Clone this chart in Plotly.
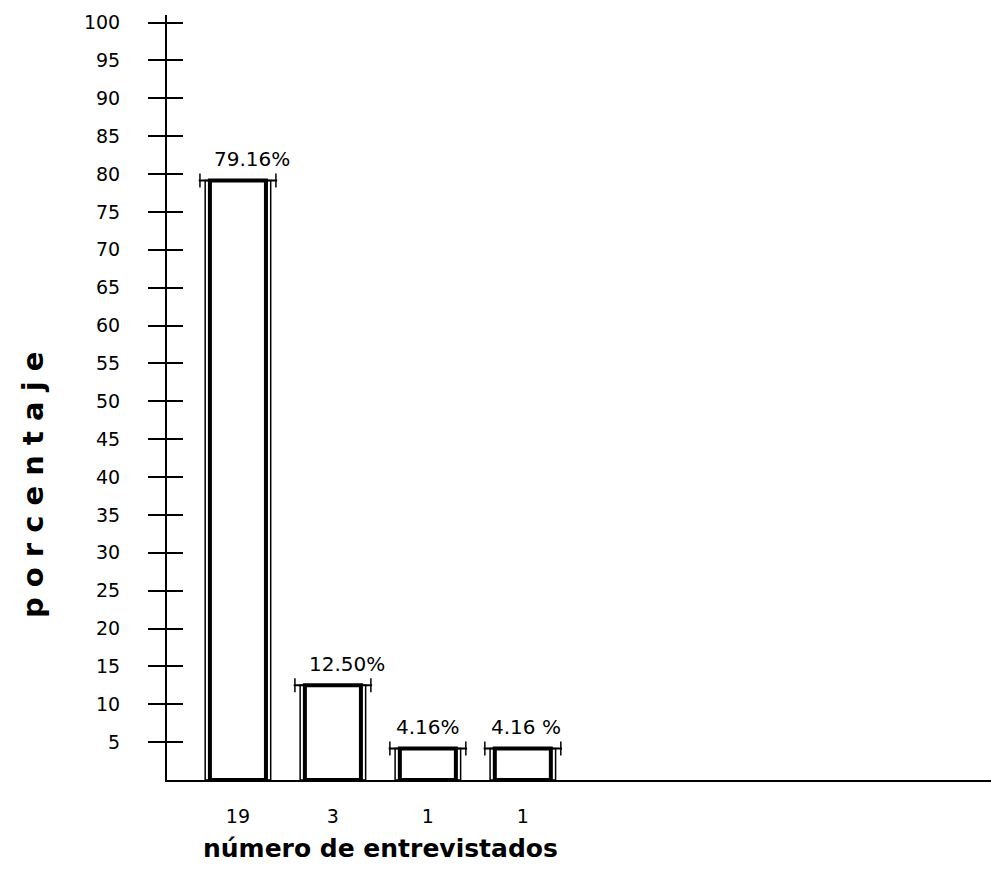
import plotly.graph_objects as go

categories = ["19", "3", "1", "1"]
positions = [0, 1, 2, 3]
percentages = [79.16, 12.50, 4.16, 4.16]
value_labels = ["79.16%", "12.50%", "4.16%", "4.16 %"]
label_shift = [14, 14, 0, 3]
y_ticks = list(range(5, 101, 5))

W, H = 991, 878
ML, MR, MT, MB = 167, 0, 15, 98
plot_w = W - ML - MR
plot_h = H - MT - MB

fig = go.Figure()

# outer bar walls
fig.add_trace(go.Bar(x=positions, y=percentages, width=0.69,
                     marker=dict(color="white", line=dict(color="black", width=1.5)),
                     showlegend=False, hoverinfo="skip"))
# inner bar walls (double-line look)
fig.add_trace(go.Bar(x=positions, y=percentages, width=0.59,
                     marker=dict(color="white", line=dict(color="black", width=4)),
                     showlegend=False, hoverinfo="skip"))
# top crossbars
fig.add_trace(go.Scatter(x=positions, y=percentages, mode="markers",
                         marker=dict(symbol="line-ew", size=56,
                                     line=dict(color="black", width=2)),
                         showlegend=False, hoverinfo="skip"))
# small end ticks of crossbars
for side in (-0.4, 0.4):
    fig.add_trace(go.Scatter(x=[p + side for p in positions], y=percentages, mode="markers",
                             marker=dict(symbol="line-ns", size=10,
                                         line=dict(color="black", width=1.5)),
                             showlegend=False, hoverinfo="skip"))
# invisible trace so yaxis2 (inner half of the cross ticks) is drawn
fig.add_trace(go.Scatter(x=[0], y=[0], yaxis="y2", mode="markers",
                         marker=dict(opacity=0), showlegend=False, hoverinfo="skip"))

for xp, yv, lab, sh in zip(positions, percentages, value_labels, label_shift):
    fig.add_annotation(x=xp, y=yv, xref="x", yref="y", text=lab, showarrow=False,
                       yanchor="bottom", yshift=7, xshift=sh,
                       font=dict(family="DejaVu Sans", size=20, color="black"))

fig.add_annotation(x=(380 - ML) / plot_w, y=(H - MB - 849) / plot_h,
                   xref="paper", yref="paper", text="<b>número de entrevistados</b>",
                   showarrow=False, xanchor="center", yanchor="middle",
                   font=dict(family="DejaVu Sans", size=25, color="black"))
fig.add_annotation(x=(33 - ML) / plot_w, y=(H - MB - 485) / plot_h,
                   xref="paper", yref="paper", text="<b>p o r c e n t a j e</b>",
                   showarrow=False, textangle=-90, xanchor="center", yanchor="middle",
                   font=dict(family="DejaVu Sans", size=29, color="black"))

fig.update_layout(
    width=W, height=H,
    margin=dict(l=ML, r=MR, t=MT, b=MB, autoexpand=False),
    paper_bgcolor="white", plot_bgcolor="white",
    barmode="overlay",
    font=dict(family="DejaVu Sans", color="black"),
    xaxis=dict(range=[-0.747, 7.93], tickmode="array", tickvals=positions,
               ticktext=categories, showgrid=False, zeroline=False,
               showline=True, linecolor="black", linewidth=2, automargin=False,
               ticks="", tickfont=dict(size=19, family="DejaVu Sans"),
               ticklabelstandoff=18),
    yaxis=dict(range=[0, 101], tickmode="array", tickvals=y_ticks,
               ticktext=[str(v) for v in y_ticks], showgrid=False, zeroline=False,
               showline=True, linecolor="black", linewidth=2, automargin=False,
               ticks="outside", ticklen=17, tickwidth=2, tickcolor="black",
               tickfont=dict(size=19, family="DejaVu Sans"), ticklabelstandoff=24),
    yaxis2=dict(range=[0, 101], overlaying="y", side="left", anchor="x",
                tickmode="array", tickvals=y_ticks, showticklabels=False,
                ticks="inside", ticklen=16, tickwidth=2, tickcolor="black",
                showgrid=False, zeroline=False, showline=False, automargin=False),
)

fig.write_html("out.html", config={"displayModeBar": False},
               post_script="document.body.style.margin='0';")
